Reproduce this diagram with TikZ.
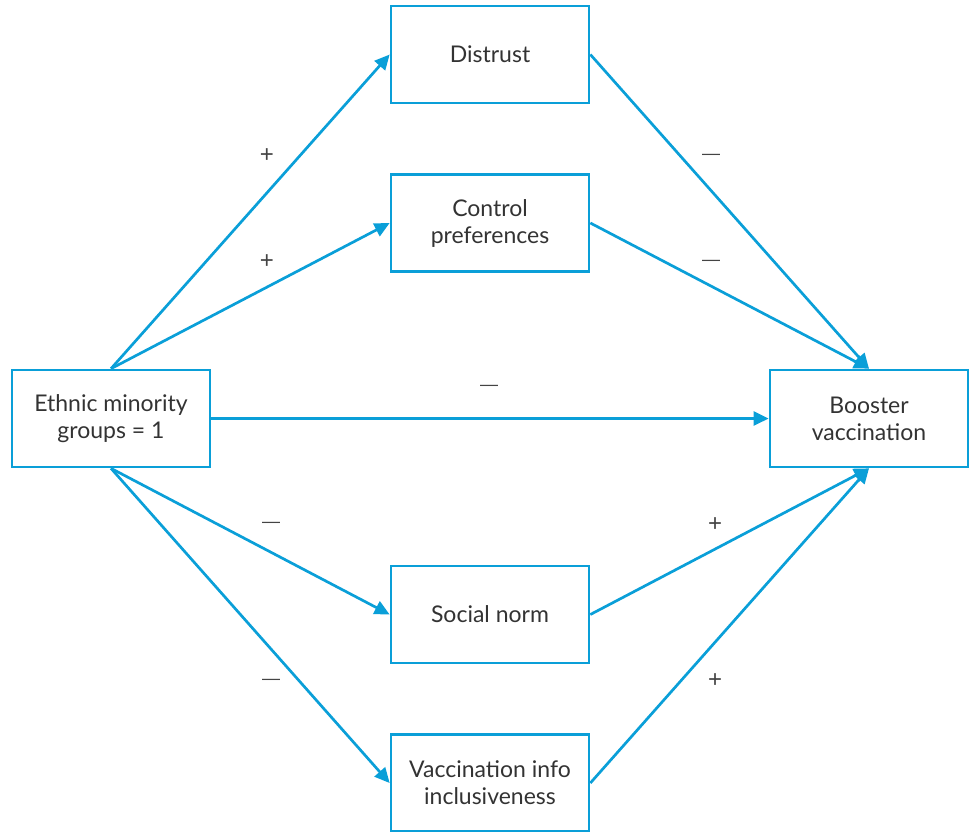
\documentclass[tikz,border=0pt]{standalone}
\usepackage{fontspec}
\setmainfont{Lato}
\newfontfamily\signfont{Liberation Sans}
\usetikzlibrary{arrows.meta}
\definecolor{lblue}{HTML}{0A9FD8}
\definecolor{tgray}{HTML}{333333}
\definecolor{sgray}{HTML}{444444}
\tikzset{
  boxnode/.style={draw=lblue, line width=2.7pt, minimum width=198pt, minimum height=97pt, align=center, text=tgray, font=\fontsize{23}{27}\selectfont, inner sep=0pt},
  conn/.style={draw=lblue, line width=2.7pt, -{Triangle[length=15pt,width=14pt]}},
  sign/.style={text=sgray, font=\signfont\fontsize{18}{20}\selectfont, inner sep=0pt},
  plussign/.style={sign, font=\signfont\fontsize{24}{26}\selectfont}
}
\begin{document}
\begin{tikzpicture}[x=1pt,y=-1pt]
\useasboundingbox (0,0) rectangle (971,831);
\node[boxnode] (eth) at (111,418.5) {Ethnic minority\\groups = 1};
\node[boxnode] (dis) at (490,54.5) {Distrust};
\node[boxnode] (con) at (490,223) {Control\\preferences};
\node[boxnode] (soc) at (490,614.5) {Social norm};
\node[boxnode] (vac) at (490,783) {Vaccination info\\inclusiveness};
\node[boxnode] (boo) at (869,418.5) {Booster\\vaccination};
\draw[conn] (eth.north) -- (dis.west);
\draw[conn] (eth.north) -- (con.west);
\draw[conn] (eth.south) -- (soc.west);
\draw[conn] (eth.south) -- (vac.west);
\draw[conn] (eth.east) -- (boo.west);
\draw[conn] (dis.east) -- (boo.north);
\draw[conn] (con.east) -- (boo.north);
\draw[conn] (soc.east) -- (boo.south);
\draw[conn] (vac.east) -- (boo.south);
\node[plussign] (s1) at (267,156) {+};
\node[plussign] (s2) at (267,262) {+};
\node[sign] (s3) at (711,157) {—};
\node[sign] (s4) at (711,263) {—};
\node[sign] (s5) at (489,388) {—};
\node[sign] (s6) at (271,525) {—};
\node[plussign] (s7) at (715,525) {+};
\node[sign] (s8) at (271,682) {—};
\node[plussign] (s9) at (715,681) {+};
\end{tikzpicture}
\end{document}
